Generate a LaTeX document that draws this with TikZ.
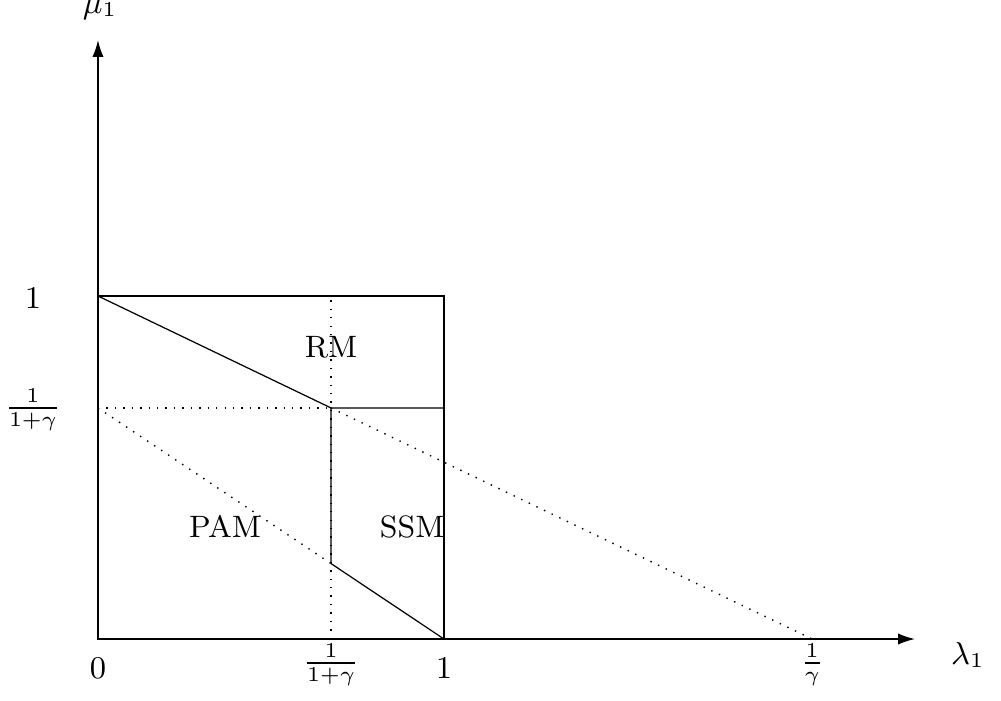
\documentclass[tikz,border=0pt]{standalone}
\usetikzlibrary{arrows.meta}
\begin{document}
\begin{tikzpicture}[x=3.46cm,y=3.43cm,
  lbl/.style={font=\fontsize{8.8}{10}\selectfont, inner sep=0pt},
  thinline/.style={line width=0.35pt},
  boldline/.style={line width=0.75pt},
  dotline/.style={line width=0.4pt, dotted},
  axisline/.style={line width=0.4pt, -{Latex[length=4.8pt,width=3.2pt]}}]
\useasboundingbox (-0.2832,-0.1778) rectangle (2.6098,1.8630);
\pgfmathsetmacro{\g}{0.4845}
\pgfmathsetmacro{\a}{1/(1+\g)}
\pgfmathsetmacro{\ig}{1/\g}
\pgfmathsetmacro{\b}{(1-\a)*\a}
% coordinates
\coordinate (O) at (0,0);
\coordinate (X1) at (1,0);
\coordinate (Y1) at (0,1);
\coordinate (C) at (1,1);
\coordinate (Ya) at (0,\a);
\coordinate (P) at (\a,\a);
\coordinate (Q) at (\a,\b);
\coordinate (R) at (1,\a);
\coordinate (Xa) at (\a,0);
\coordinate (Xat) at (\a,1);
\coordinate (Xg) at (\ig,0);
\coordinate (Xend) at (2.361,0);
\coordinate (Yend) at (0,1.746);
% axes
\draw[axisline] (X1) -- (Xend);
\draw[axisline] (Y1) -- (Yend);
\draw[boldline] (Y1) -- (O) -- (X1);
% square
\draw[thinline] (Y1) -- (C) -- (X1);
% dotted lines
\draw[dotline] (Xa) -- (Xat);
\draw[dotline] (Ya) -- (P);
\draw[dotline] (P) -- (Xg);
\draw[dotline] (Ya) -- (Q);
% solid boundaries
\draw[thinline] (Y1) -- (P) -- (R);
\draw[thinline] (P) -- (Q) -- (X1);
% labels
\node[lbl] (mu) at (0.006,1.835) {$\mu_1$};
\node[lbl] (la) at (2.514,-0.047) {$\lambda_1$};
\node[lbl] (l1) at (-0.188,0.994) {$1$};
\node[lbl] (la2) at (-0.188,0.668) {$\frac{1}{1+\gamma}$};
\node[lbl] (x0) at (0,-0.085) {$0$};
\node[lbl] (xa) at (\a,-0.076) {$\frac{1}{1+\gamma}$};
\node[lbl] (x1) at (1,-0.085) {$1$};
\node[lbl] (xg) at (\ig,-0.076) {$\frac{1}{\gamma}$};
\node[lbl] (rm) at (\a,0.851) {RM};
\node[lbl] (pam) at (0.367,0.327) {PAM};
\node[lbl] (ssm) at (0.908,0.327) {SSM};
\end{tikzpicture}
\end{document}
